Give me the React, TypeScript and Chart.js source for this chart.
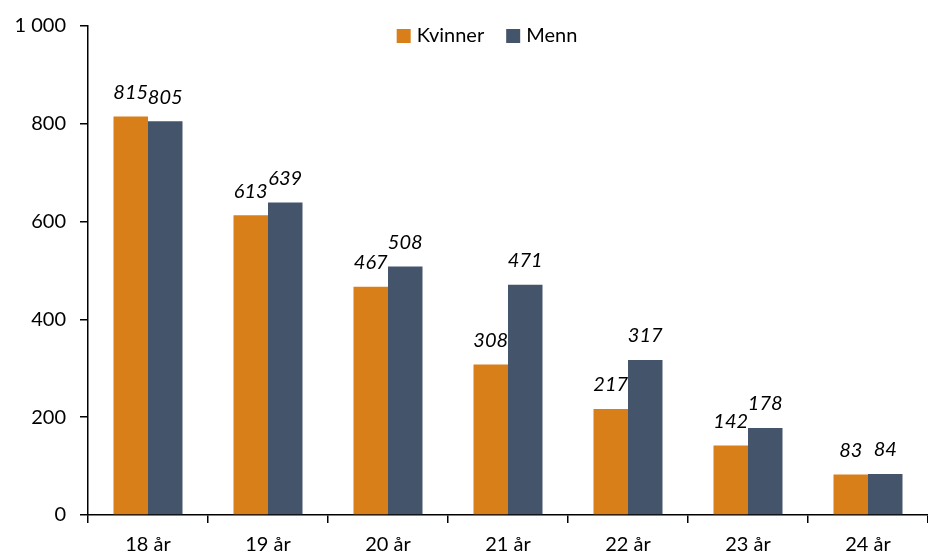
import React, { useEffect, useRef } from "react";
import { Chart, registerables } from "chart.js";

Chart.register(...registerables);

const categories = ["18 år", "19 år", "20 år", "21 år", "22 år", "23 år", "24 år"];
const kvinner = [815, 613, 467, 308, 217, 142, 83];
const menn = [805, 639, 508, 471, 317, 178, 84];
const yTicks = [0, 200, 400, 600, 800, 1000];
const seriesNames = ["Kvinner", "Menn"];
const seriesColors = ["#D97F1A", "#44546A"];

const FONT = "Lato, 'Open Sans', sans-serif";

const labelPlugin = {
  id: "barLabels",
  afterDatasetsDraw(chart: any) {
    const ctx = chart.ctx;
    ctx.save();
    ctx.font = `italic 20px ${FONT}`;
    ctx.fillStyle = "#000";
    ctx.textAlign = "center";
    ctx.textBaseline = "middle";
    chart.data.datasets.forEach((ds: any, i: number) => {
      const meta = chart.getDatasetMeta(i);
      meta.data.forEach((bar: any, j: number) => {
        ctx.fillText(String(ds.data[j]), bar.x, bar.y - 24);
      });
    });
    ctx.restore();
  },
};

const legendPlugin = {
  id: "topLegend",
  afterDraw(chart: any) {
    const ctx = chart.ctx;
    ctx.save();
    ctx.font = `20px ${FONT}`;
    ctx.textBaseline = "middle";
    const box = 14, gap = 6, itemGap = 22;
    const items = chart.data.datasets.map((ds: any) => ({
      label: ds.label,
      color: ds.backgroundColor,
      w: box + gap + ctx.measureText(ds.label).width,
    }));
    const total = items.reduce((a: number, it: any) => a + it.w, 0) + itemGap * (items.length - 1);
    let x = 487 - total / 2;
    const y = chart.chartArea.top + 10;
    items.forEach((it: any) => {
      ctx.fillStyle = it.color;
      ctx.fillRect(x, y - box / 2, box, box);
      ctx.fillStyle = "#000";
      ctx.textAlign = "left";
      ctx.fillText(it.label, x + box + gap, y);
      x += it.w + itemGap;
    });
    ctx.restore();
  },
};

export default function App() {
  const ref = useRef<HTMLCanvasElement>(null);
  useEffect(() => {
    document.body.style.margin = "0";
    const chart = new Chart(ref.current!, {
      type: "bar",
      data: {
        labels: categories,
        datasets: [
          { label: seriesNames[0], data: kvinner, backgroundColor: seriesColors[0], categoryPercentage: 0.575, barPercentage: 1 },
          { label: seriesNames[1], data: menn, backgroundColor: seriesColors[1], categoryPercentage: 0.575, barPercentage: 1 },
        ],
      },
      options: {
        animation: false,
        responsive: false,
        maintainAspectRatio: false,
        layout: { padding: { top: 11, right: 0, left: 0, bottom: 0 } },
        plugins: {
          legend: { display: false },
          tooltip: { enabled: false },
        },
        scales: {
          x: {
            grid: { display: true, drawOnChartArea: false, tickLength: 8, color: "#000", offset: true, lineWidth: 1.5 },
            border: { color: "#000", width: 1.5 },
            ticks: { color: "#000", font: { size: 20, family: FONT }, padding: 10 },
            afterFit: (s: any) => { s.height = 39; },
          },
          y: {
            min: 0,
            max: 1000,
            afterBuildTicks: (s: any) => { s.ticks = yTicks.map((v) => ({ value: v })); },
            grid: { display: true, drawOnChartArea: false, tickLength: 8, color: "#000", lineWidth: 1.5 },
            border: { color: "#000", width: 1.5 },
            ticks: {
              color: "#000",
              font: { size: 20, family: FONT },
              padding: 14,
              callback: (v: any) => String(v).replace(/\B(?=(\d{3})+(?!\d))/g, " "),
            },
            afterFit: (s: any) => { s.width = 88; },
          },
        },
      },
      plugins: [labelPlugin, legendPlugin],
    });
    return () => chart.destroy();
  }, []);
  return (
    <div style={{ position: "absolute", left: 0, top: 0, width: 928, height: 554 }}>
      <canvas ref={ref} width={928} height={554} />
    </div>
  );
}
